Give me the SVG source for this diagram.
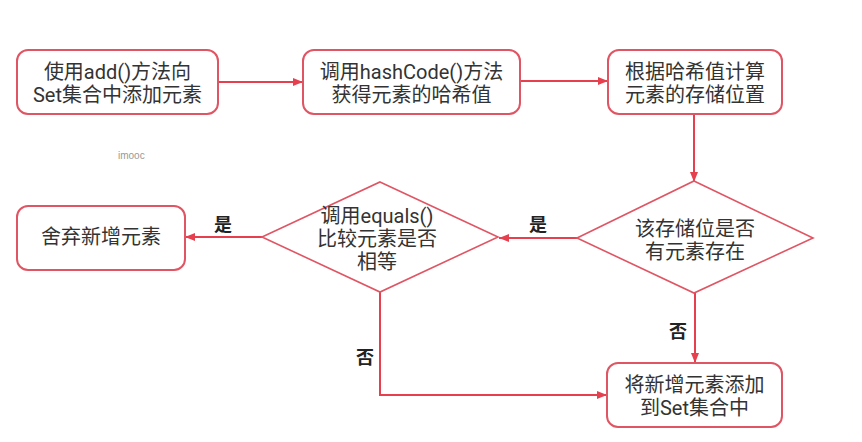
<svg xmlns="http://www.w3.org/2000/svg" width="862" height="442" viewBox="0 0 862 442">
<style>
.box{fill:#fff;stroke:#e05563;stroke-width:2}
.dia{fill:#fff;stroke:#e05563;stroke-width:1.6}
.conn{fill:none;stroke:#e6404f;stroke-width:2}
.t{font-family:Roboto,"Noto Sans CJK SC",sans-serif;font-size:20px;fill:#333;text-anchor:middle}
.lbl{font-family:Roboto,"Noto Sans CJK SC",sans-serif;font-size:18px;font-weight:bold;fill:#222;text-anchor:middle}
.wm{font-family:"Liberation Sans","DejaVu Sans",sans-serif;font-size:10px;fill:#999}
</style>
<defs>
<marker id="arr" viewBox="0 0 10 8" refX="10" refY="4" markerWidth="10" markerHeight="8" markerUnits="userSpaceOnUse" orient="auto">
<path d="M0,0 L10,4 L0,8 Z" fill="#e6404f"/>
</marker>
</defs>
<rect width="862" height="442" fill="#fff"/>
<text class="wm" x="118" y="159">imooc</text>
<g id="connectors">
<line class="conn" x1="218" y1="82" x2="303" y2="82" marker-end="url(#arr)"/>
<line class="conn" x1="520" y1="81" x2="608" y2="81" marker-end="url(#arr)"/>
<line class="conn" x1="694" y1="114" x2="694" y2="182" marker-end="url(#arr)"/>
<line class="conn" x1="577" y1="238" x2="499" y2="238" marker-end="url(#arr)"/>
<line class="conn" x1="262" y1="237" x2="185" y2="237" marker-end="url(#arr)"/>
<polyline class="conn" points="380,292 380,395 607,395" marker-end="url(#arr)"/>
<line class="conn" x1="695" y1="293" x2="695" y2="363" marker-end="url(#arr)"/>
<text class="lbl" x="538" y="231">是</text>
<text class="lbl" x="223" y="231">是</text>
<text class="lbl" x="678" y="338">否</text>
<text class="lbl" x="365" y="364">否</text>
</g>
<g id="n1">
<rect class="box" x="17" y="50" width="201" height="64" rx="11"/>
<text class="t" x="117.5" y="79">使用add()方法向</text>
<text class="t" x="117.5" y="102">Set集合中添加元素</text>
</g>
<g id="n2">
<rect class="box" x="303" y="50" width="217" height="64" rx="11"/>
<text class="t" x="411.5" y="79">调用hashCode()方法</text>
<text class="t" x="411.5" y="102">获得元素的哈希值</text>
</g>
<g id="n3">
<rect class="box" x="608" y="50" width="174" height="64" rx="11"/>
<text class="t" x="695" y="79">根据哈希值计算</text>
<text class="t" x="695" y="102">元素的存储位置</text>
</g>
<g id="d2">
<polygon class="dia" points="694,181 813,238 694,293 577,238"/>
<text class="t" x="695" y="236">该存储位是否</text>
<text class="t" x="695" y="259">有元素存在</text>
</g>
<g id="d1">
<polygon class="dia" points="380,182 498,237 380,292 262,237"/>
<text class="t" x="377" y="223">调用equals()</text>
<text class="t" x="377" y="246">比较元素是否</text>
<text class="t" x="377" y="269">相等</text>
</g>
<g id="n4">
<rect class="box" x="17" y="206" width="168" height="64" rx="11"/>
<text class="t" x="101" y="244">舍弃新增元素</text>
</g>
<g id="n5">
<rect class="box" x="607" y="363" width="175" height="64" rx="11"/>
<text class="t" x="694.5" y="392">将新增元素添加</text>
<text class="t" x="694.5" y="415">到Set集合中</text>
</g>
</svg>
